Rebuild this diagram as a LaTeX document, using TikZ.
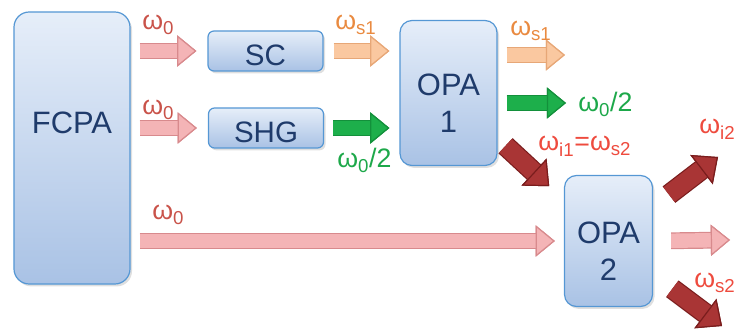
\documentclass[tikz,border=0pt]{standalone}
\usepackage{fontspec}
\setmainfont{Liberation Sans}
\usetikzlibrary{arrows.meta, shadows}

\definecolor{boxtop}{HTML}{E6EEF9}
\definecolor{boxbot}{HTML}{A9C2E5}
\definecolor{boxedge}{HTML}{5597D4}
\definecolor{boxtext}{HTML}{1F3B6B}
\definecolor{pinkfill}{HTML}{F4B4B6}
\definecolor{pinkedge}{HTML}{D88A8D}
\definecolor{peachfill}{HTML}{FAC8A0}
\definecolor{peachedge}{HTML}{E7A777}
\definecolor{greenfill}{HTML}{1DAF4B}
\definecolor{greenedge}{HTML}{13903B}
\definecolor{brickfill}{HTML}{A93535}
\definecolor{brickedge}{HTML}{7A1D1D}
\definecolor{omegabrick}{HTML}{C9534A}
\definecolor{omegaorange}{HTML}{E98A40}
\definecolor{omegagreen}{HTML}{1DA84A}
\definecolor{omegared}{HTML}{EE4B3E}

\begin{document}
\begin{tikzpicture}[x=0.25mm, y=-0.25mm,
    box/.style={rectangle, draw=boxedge, line width=0.3mm, top color=boxtop, bottom color=boxbot, text=boxtext, align=center, drop shadow={opacity=0.25, shadow xshift=0.5mm, shadow yshift=-0.6mm}},
    bigbox/.style={box, font=\fontsize{22}{26}\selectfont, rounded corners=3mm},
    smallbox/.style={box, font=\fontsize{21}{24}\selectfont, rounded corners=1.5mm, minimum width=28.75mm, minimum height=10mm, text height=21pt, text depth=0pt},
    beam/.style 2 args={draw=#1, line width=3.6mm, preaction={draw=#2, line width=4.2mm}, -{Triangle[length=4.8mm, width=7.8mm, line width=0.3mm, color=#2, fill=#1]}},
    fatbeam/.style 2 args={draw=#1, line width=4.6mm, preaction={draw=#2, line width=5.2mm}, -{Triangle[length=5.2mm, width=9.2mm, line width=0.3mm, color=#2, fill=#1]}},
    lbl/.style={anchor=base west, inner sep=0pt, font=\fontsize{19}{22}\selectfont}
]
    \useasboundingbox (0,0) rectangle (736,329);

    % Boxes
    \node[bigbox, minimum width=29mm, minimum height=68mm, rounded corners=3.8mm, text height=10pt, text depth=30pt] (fcpa) at (72,148) {FCPA};
    \node[smallbox] (sc) at (265.5,51) {SC};
    \node[smallbox] (shg) at (266,128) {SHG};
    \node[bigbox, minimum width=24.25mm, minimum height=36.25mm, text height=56pt, text depth=0pt] (opa1) at (448.5,93) {OPA\\1};
    \node[bigbox, minimum width=22mm, minimum height=32.75mm, text height=56pt, text depth=0pt] (opa2) at (608.5,241) {OPA\\2};

    % Free ends
    \coordinate (s1end) at (565,55);
    \coordinate (halfend) at (566,103);
    \coordinate (i2end) at (718,157);
    \coordinate (outend) at (730,240);
    \coordinate (s2end) at (722,326);

    % Pump
    \draw[beam={pinkfill}{pinkedge}, shorten <=2.25mm, shorten >=2.75mm] (fcpa.east |- sc.west) -- (sc.west);
    \draw[beam={pinkfill}{pinkedge}, shorten <=2.25mm, shorten >=2.75mm] (fcpa.east |- shg.west) -- (shg.west);
    \draw[beam={pinkfill}{pinkedge}, shorten <=2.25mm, shorten >=2.25mm] (fcpa.east |- opa2.west) -- (opa2.west);
    \node[lbl, text=omegabrick] (w0a) at (142,30) {ω\textsubscript{0}};
    \node[lbl, text=omegabrick] (w0b) at (142,115) {ω\textsubscript{0}};
    \node[lbl, text=omegabrick] (w0c) at (152,220) {ω\textsubscript{0}};

    % OPA 1
    \draw[beam={peachfill}{peachedge}, shorten <=2.5mm, shorten >=2.5mm] (sc.east) -- (opa1.west |- sc.east);
    \draw[beam={greenfill}{greenedge}, shorten <=2.25mm, shorten >=2.5mm] (shg.east) -- (opa1.west |- shg.east);
    \node[lbl, text=omegaorange] (ws1a) at (335,30) {ω\textsubscript{s1}};
    \node[lbl, text=omegagreen] (whalfa) at (337,168) {ω\textsubscript{0}/2};

    \draw[beam={peachfill}{peachedge}, shorten <=2.25mm] (opa1.east |- s1end) -- (s1end);
    \draw[beam={greenfill}{greenedge}, shorten <=2.25mm] (opa1.east |- halfend) -- (halfend);
    \draw[fatbeam={brickfill}{brickedge}, shorten <=2.7mm, shorten >=5mm] (opa1) -- (opa2);
    \node[lbl, text=omegaorange] (ws1b) at (510,36) {ω\textsubscript{s1}};
    \node[lbl, text=omegagreen] (whalfb) at (578,112) {ω\textsubscript{0}/2};
    \node[lbl, text=omegared] (wi1) at (538,151) {ω\textsubscript{i1}=ω\textsubscript{s2}};

    % OPA 2
    \draw[fatbeam={brickfill}{brickedge}, shorten <=5mm] (opa2) -- (i2end);
    \draw[beam={pinkfill}{pinkedge}, shorten <=4.5mm] (opa2.east) -- (outend);
    \draw[fatbeam={brickfill}{brickedge}, shorten <=6mm] (opa2) -- (s2end);
    \node[lbl, text=omegared] (wi2) at (699,134) {ω\textsubscript{i2}};
    \node[lbl, text=omegared] (ws2) at (694,288) {ω\textsubscript{s2}};

\end{tikzpicture}
\end{document}
